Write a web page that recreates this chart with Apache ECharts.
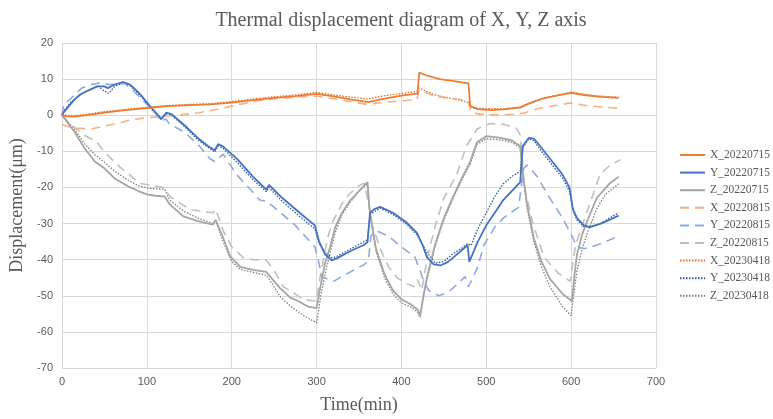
<!DOCTYPE html>
<html>
<head>
<meta charset="utf-8">
<script src="https://cdn.jsdelivr.net/npm/echarts@6/dist/echarts.min.js"></script>
<style>html,body{margin:0;padding:0;background:#fff}#c{width:773px;height:419px}</style>
</head>
<body>
<div id="c"></div>
<script>
const xTicks = [0, 100, 200, 300, 400, 500, 600, 700];
const yTicks = [-70, -60, -50, -40, -30, -20, -10, 0, 10, 20];
const seriesNames = ['X_20220715','Y_20220715','Z_20220715','X_20220815','Y_20220815','Z_20220815','X_20230418','Y_20230418','Z_20230418'];

const X_20220715 = [[0,0],[5,-0.3],[15,-0.4],[30,0],[50,0.7],[75,1.4],[100,2],[125,2.5],[150,2.8],[175,3],[200,3.5],[225,4.2],[250,4.8],[275,5.3],[300,5.9],[320,5.2],[340,4.4],[361,3.6],[380,4.6],[400,5.4],[419,6],[421,11.8],[430,11],[445,10],[460,9.5],[479,8.8],[481,2.5],[490,1.7],[505,1.4],[520,1.6],[540,2.1],[550,3.2],[565,4.5],[580,5.3],[600,6.2],[615,5.6],[635,5.1],[656,4.8]];
const Y_20220715 = [[0,0],[2,0.8],[8,2.5],[15,4.4],[22,5.8],[31,6.9],[42,8],[50,8],[54,7.5],[62,8.5],[72,9.2],[80,8.5],[88,6.8],[94,5.3],[105,2.1],[112,0.3],[117,-1],[123,0.7],[129,0.3],[143,-2.5],[160,-6.3],[172,-8.5],[180,-9.7],[184,-8],[190,-8.7],[206,-12],[225,-17],[241,-20.6],[244,-19.3],[260,-23],[280,-27],[298,-30.5],[303,-35],[310,-38.5],[318,-40.2],[325,-39.5],[340,-37.6],[355,-36],[360,-35.2],[363,-27],[368,-26],[375,-25.4],[390,-27],[405,-29.5],[418,-32.5],[425,-36],[430,-39.3],[438,-41.3],[446,-41.6],[455,-40.6],[465,-38.6],[478,-36],[480,-40.6],[490,-35],[500,-30.5],[510,-27],[520,-23.5],[530,-21],[540,-18.5],[543,-8.5],[550,-6.3],[556,-6.5],[565,-9],[580,-13.5],[590,-16.5],[598,-20],[602,-26],[607,-28.5],[615,-30.5],[622,-31],[635,-30],[645,-29],[656,-27.8]];
const Z_20220715 = [[0,0],[8,-2.5],[15,-4.7],[27,-9.3],[39,-12.9],[50,-14.7],[62,-17.5],[78,-19.7],[90,-21],[101,-22],[110,-22.3],[121,-22.5],[127,-24.7],[143,-28],[160,-29.3],[178,-30.3],[181,-29],[190,-34],[198,-39],[210,-42],[225,-42.8],[241,-43.4],[250,-46],[257,-47.9],[269,-50.5],[277,-51.3],[290,-53],[300,-53.4],[305,-47],[310,-41],[316,-36.5],[322,-31],[330,-27],[340,-23.5],[350,-21],[360,-18.5],[362,-25],[365,-30],[370,-37],[380,-44],[390,-48.5],[400,-51],[410,-52.2],[419,-53.8],[422,-55.5],[426,-50],[430,-45],[440,-35.5],[450,-28.5],[460,-23],[470,-18],[481,-12.9],[489,-7.5],[500,-5.8],[515,-6.2],[530,-7],[540,-8.5],[543,-16],[548,-24.7],[556,-34],[565,-40.5],[575,-45.3],[590,-49.5],[601,-51.5],[604,-44],[607,-38.4],[613,-33],[619,-29.3],[630,-23],[645,-19],[656,-17]];
const X_20220815 = [[0,-2.5],[5,-3],[15,-3.6],[35,-3.8],[60,-2.5],[85,-1.1],[110,-0.5],[140,0.1],[162,0.7],[190,2],[210,3],[230,4],[250,4.5],[275,5],[300,5.3],[330,4.2],[359,3],[380,3.6],[400,4],[418,4.3],[421,7],[440,5.2],[460,4.6],[478,4.1],[482,1],[490,0.3],[510,0.1],[530,0.2],[545,0.6],[560,1.8],[580,2.6],[599,3.4],[620,2.6],[640,2.2],[656,1.9]];
const Y_20220815 = [[0,0],[2,3],[10,4.5],[23,7.5],[35,8.5],[45,9],[55,8.5],[65,8.6],[74,8.8],[85,6.5],[98,3.5],[109,1.1],[117,-1.8],[122,-1],[127,-2.5],[143,-4.5],[160,-8],[174,-12],[180,-12.8],[190,-10.8],[206,-16.5],[220,-20],[233,-23.5],[241,-23.8],[250,-25.5],[275,-30.5],[298,-36.5],[302,-40],[306,-44.7],[320,-46],[335,-44],[355,-41.5],[361,-40.5],[364,-33.5],[371,-32],[385,-33.5],[400,-36.5],[416,-39.3],[425,-45],[432,-48.5],[444,-50],[455,-49],[465,-47],[475,-44.7],[479,-47.5],[490,-42],[497,-36],[510,-31],[520,-28.5],[538,-25.5],[544,-14.7],[548,-13.8],[560,-17],[575,-23],[590,-28.5],[600,-33],[607,-36.5],[615,-37],[630,-36],[656,-33.5]];
const Z_20220815 = [[0,0],[10,-2.5],[27,-5.6],[41,-7.4],[50,-10.2],[60,-12.5],[70,-14.7],[80,-16.5],[90,-18.8],[107,-19.5],[120,-20],[127,-22.4],[140,-24.5],[151,-26.1],[165,-26.6],[178,-27],[181,-26],[190,-32],[200,-36.5],[214,-39.5],[225,-40],[241,-40.2],[250,-43],[261,-47.5],[275,-49.5],[284,-51],[300,-51.5],[304,-45],[308,-40],[313,-34],[318,-30],[330,-24.5],[340,-21.5],[350,-19.5],[356,-18.8],[360,-23],[365,-30],[375,-37],[385,-42],[395,-45],[405,-46.5],[415,-47.5],[419,-45.5],[424,-48.5],[430,-40],[440,-30.5],[450,-23],[465,-16.5],[477,-8.4],[489,-3.8],[505,-2.3],[520,-2.5],[535,-3.5],[540,-5.5],[545,-20],[555,-30],[568,-39.3],[585,-43.8],[599,-46],[605,-36],[611,-32],[619,-26.5],[634,-16.5],[645,-14],[658,-12.3]];
const X_20230418 = [[0,0.3],[10,-0.2],[30,0.3],[50,1],[75,1.6],[100,2.2],[125,2.7],[150,3],[175,3.2],[200,3.8],[225,4.5],[250,5.1],[275,5.6],[300,6.3],[330,5.3],[360,4.5],[380,5.4],[400,6],[418,6.6],[421,7.5],[440,5.6],[460,4.6],[478,3.6],[484,2],[500,1.8],[520,1.8],[540,2.3],[555,3.8],[570,4.9],[585,5.6],[600,6.4],[620,5.6],[640,5.2],[656,5]];
const Y_20230418 = [[0,0],[3,1.5],[10,3.5],[20,5.5],[31,6.8],[42,8.2],[48,7],[55,6],[62,8],[72,9],[80,8.3],[94,5],[105,1.8],[112,0],[117,-1.2],[123,0.4],[129,0],[143,-2.8],[160,-6.8],[180,-10.2],[184,-8.5],[190,-9.2],[206,-13],[225,-17.8],[241,-21.2],[244,-20],[260,-24],[280,-28],[298,-31.5],[303,-35.5],[310,-38],[318,-39.5],[325,-39],[340,-37],[360,-34.5],[363,-27.5],[375,-25.7],[390,-27.5],[405,-30],[418,-33],[430,-38],[440,-41],[450,-40.5],[460,-38.5],[470,-37],[478,-35.5],[482,-36],[490,-31.5],[500,-27],[510,-22.5],[520,-19],[530,-17],[540,-15.5],[543,-9],[550,-6.5],[556,-7],[565,-10],[580,-14.5],[590,-17.5],[598,-21],[603,-27],[607,-29],[615,-30.8],[622,-31],[635,-30],[645,-28.5],[656,-27]];
const Z_20230418 = [[0,0],[15,-4],[27,-8],[39,-11],[50,-13],[62,-15.5],[78,-18],[90,-19.5],[101,-20.2],[121,-20.5],[127,-23.5],[143,-26.5],[160,-28.5],[178,-30],[181,-29],[190,-35],[200,-40.5],[210,-42.7],[225,-43.5],[241,-44.3],[250,-47.5],[257,-50.2],[270,-53],[285,-55.5],[300,-57.5],[305,-50],[310,-44],[316,-38],[322,-32.5],[330,-27.5],[340,-24],[350,-21],[360,-19],[362,-25],[365,-30.5],[370,-37.5],[380,-45],[390,-49.5],[400,-52],[410,-53],[419,-54.5],[422,-56],[426,-50],[430,-45.5],[440,-36],[450,-29],[460,-23.5],[470,-18.5],[481,-13.5],[489,-8],[500,-6.5],[515,-6.8],[530,-7.5],[540,-9],[543,-16.5],[548,-25.5],[556,-35],[565,-42],[575,-47.5],[590,-53],[600,-55.5],[604,-48],[607,-43],[613,-37],[620,-32],[630,-26],[640,-22],[656,-19]];

const dataSets = [X_20220715, Y_20220715, Z_20220715, X_20220815, Y_20220815, Z_20220815, X_20230418, Y_20230418, Z_20230418];
const colors = ['#ED7D31','#4472C4','#A5A5A5','#F4B183','#8FAADC','#BFBFBF','#E46C1E','#2F5597','#7F7F7F'];
const dashes = ['solid','solid','solid',[9,6],[9,6],[9,6],[1.5,1.5],[1.5,1.5],[1.5,1.5]];
const widths = [1.8,1.8,1.8,1.6,1.6,1.6,1.3,1.3,1.3];

const serif = '"Liberation Serif","Times New Roman",serif';
const chart = echarts.init(document.getElementById('c'), null, {renderer:'canvas'});
chart.setOption({
  animation: false,
  backgroundColor: '#fff',
  title: {
    text: 'Thermal displacement diagram of X, Y, Z axis',
    left: 396, top: 6, textAlign: 'center',
    textStyle: {fontFamily: serif, fontSize: 20, fontWeight: 'normal', color: '#595959'}
  },
  legend: {
    orient: 'vertical', left: 679, top: 149, padding: 0,
    itemWidth: 25, itemHeight: 12, itemGap: 5.6,
    data: seriesNames,
    itemStyle: {opacity: 0},
    textStyle: {fontFamily: serif, fontSize: 11.5, color: '#595959'}
  },
  grid: {left: 62, right: 117, top: 43, bottom: 46, containLabel: false},
  xAxis: {
    type: 'value', min: xTicks[0], max: xTicks[xTicks.length-1], interval: 100,
    name: 'Time(min)', nameLocation: 'middle', nameGap: 28,
    nameTextStyle: {fontFamily: serif, fontSize: 18, color: '#595959'},
    axisLine: {show: true, lineStyle: {color: '#d9d9d9'}},
    axisTick: {show: false},
    axisLabel: {fontFamily: '"Liberation Sans",Arial,sans-serif', fontSize: 11, color: '#595959', margin: 8},
    splitLine: {show: true, lineStyle: {color: '#d9d9d9'}}
  },
  yAxis: {
    type: 'value', min: yTicks[0], max: yTicks[yTicks.length-1], interval: 10,
    name: 'Displacement(μm)', nameLocation: 'middle', nameGap: 27, nameRotate: 90,
    nameTextStyle: {fontFamily: serif, fontSize: 18, color: '#595959'},
    axisLine: {show: true, lineStyle: {color: '#d9d9d9'}},
    axisTick: {show: false},
    axisLabel: {fontFamily: '"Liberation Sans",Arial,sans-serif', fontSize: 11, color: '#595959', margin: 9},
    splitLine: {show: true, lineStyle: {color: '#d9d9d9'}}
  },
  series: seriesNames.map((n, i) => ({
    name: n, type: 'line', data: dataSets[i],
    symbol: 'none', showSymbol: false, smooth: false,
    z: 10 - i,
    itemStyle: {color: colors[i]},
    lineStyle: {color: colors[i], width: widths[i], type: dashes[i]}
  }))
});
</script>
</body>
</html>
